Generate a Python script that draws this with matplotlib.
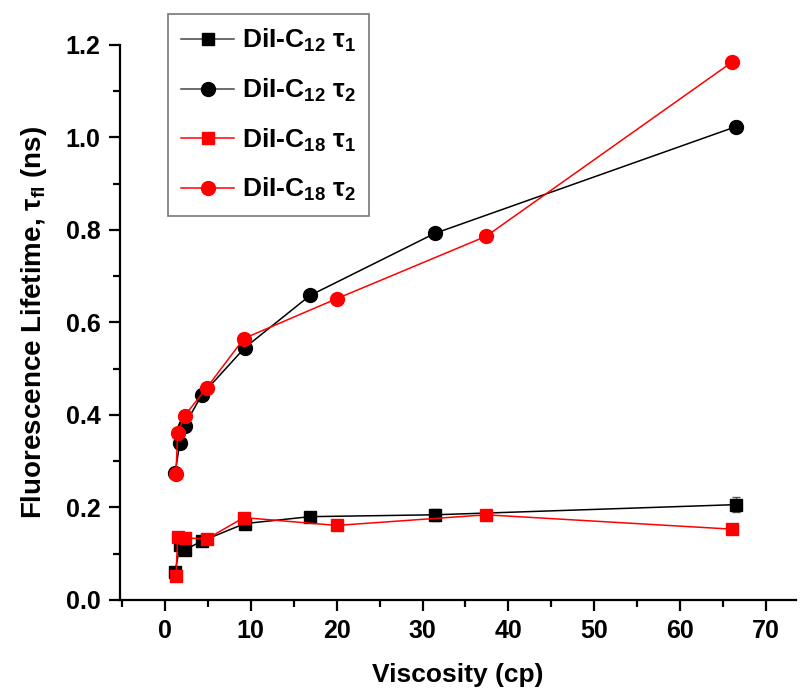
import matplotlib as mpl
mpl.use("Agg")
import matplotlib.pyplot as plt
from matplotlib.lines import Line2D
from matplotlib.ticker import MultipleLocator

# viscosity (cp) and lifetimes (ns)
visc_c12 = [1.2, 1.75, 2.3, 4.3, 9.3, 16.9, 31.4, 66.5]
tau1_c12 = [0.060, 0.118, 0.108, 0.127, 0.165, 0.180, 0.184, 0.206]
tau1_c12_err = [0.004, 0.004, 0.004, 0.004, 0.004, 0.005, 0.013, 0.017]
tau2_c12 = [0.275, 0.340, 0.377, 0.443, 0.545, 0.658, 0.792, 1.023]
tau2_c12_err = [0.003, 0.003, 0.003, 0.003, 0.003, 0.003, 0.004, 0.012]

visc_c18 = [1.3, 1.5, 2.3, 4.9, 9.2, 20.0, 37.4, 66.0]
tau1_c18 = [0.052, 0.137, 0.134, 0.132, 0.178, 0.161, 0.184, 0.153]
tau1_c18_err = [0.004, 0.004, 0.004, 0.004, 0.004, 0.004, 0.009, 0.004]
tau2_c18 = [0.273, 0.361, 0.398, 0.459, 0.565, 0.651, 0.786, 1.162]

labels = ["DiI-C$_{12}$ τ$_1$", "DiI-C$_{12}$ τ$_2$",
          "DiI-C$_{18}$ τ$_1$", "DiI-C$_{18}$ τ$_2$"]

mpl.rcParams.update({
    "font.family": "Liberation Sans",
    "font.weight": "bold",
    "mathtext.fontset": "custom",
    "mathtext.rm": "Liberation Sans:bold",
    "mathtext.bf": "Liberation Sans:bold",
    "mathtext.it": "Liberation Sans:bold",
    "mathtext.default": "bf",
})

fig = plt.figure(figsize=(8.01, 6.88), dpi=100)
ax = fig.add_axes([0.150, 0.128, 0.844, 0.807])

ax.errorbar(visc_c12, tau1_c12, yerr=tau1_c12_err, color="black", lw=1.1,
            marker="s", ms=9, ecolor="#555555", elinewidth=1, capsize=3,
            zorder=3)
ax.errorbar(visc_c12, tau2_c12, yerr=tau2_c12_err, color="black", lw=1.1,
            marker="o", ms=10, ecolor="#555555", elinewidth=1, capsize=3,
            zorder=3)
ax.errorbar(visc_c18, tau1_c18, yerr=tau1_c18_err, color="red", lw=1.1,
            marker="s", ms=9, ecolor="#33cccc", elinewidth=1, capsize=3,
            zorder=4)
ax.plot(visc_c18, tau2_c18, color="red", lw=1.1, marker="o", ms=10, zorder=4)

ax.set_xlim(-5.2, 73.5)
ax.set_ylim(0, 1.2)
ax.xaxis.set_major_locator(MultipleLocator(10))
ax.xaxis.set_minor_locator(MultipleLocator(5))
ax.yaxis.set_major_locator(MultipleLocator(0.2))
ax.yaxis.set_minor_locator(MultipleLocator(0.1))
ax.yaxis.set_major_formatter(mpl.ticker.FormatStrFormatter("%.1f"))

for side in ("top", "right"):
    ax.spines[side].set_visible(False)
for side in ("left", "bottom"):
    ax.spines[side].set_linewidth(1.6)
ax.tick_params(which="major", direction="out", length=8, width=1.6,
               labelsize=18, pad=6)
ax.tick_params(which="minor", direction="out", length=5, width=1.6)

ax.set_xlabel("Viscosity (cp)", fontsize=19, fontweight="bold", labelpad=14)
ax.set_ylabel("Fluorescence Lifetime, τ$_{fl}$ (ns)", fontsize=20,
              fontweight="bold", labelpad=12)

handles = [
    Line2D([], [], color="#444444", lw=1.1, marker="s", ms=9,
           markerfacecolor="black", markeredgecolor="black"),
    Line2D([], [], color="#444444", lw=1.1, marker="o", ms=10,
           markerfacecolor="black", markeredgecolor="black"),
    Line2D([], [], color="red", lw=1.1, marker="s", ms=9),
    Line2D([], [], color="red", lw=1.1, marker="o", ms=10),
]
leg = fig.legend(handles, labels, loc="upper left",
                 bbox_to_anchor=(168 / 801, 1 - 14 / 688),
                 fontsize=19, frameon=True, fancybox=False, shadow=False,
                 handlelength=2.0, labelspacing=0.85, borderpad=0.5,
                 handletextpad=0.3, borderaxespad=0)
leg.get_frame().set_edgecolor("#555555")
leg.get_frame().set_linewidth(1.2)

fig.savefig("out.png", dpi=100)
